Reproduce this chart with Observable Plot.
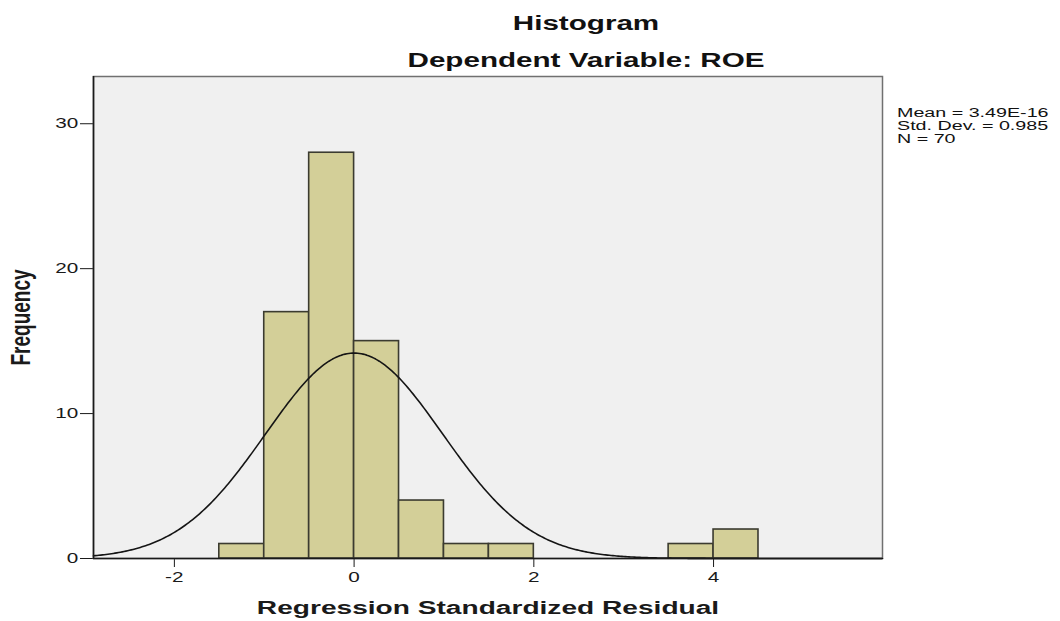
<!DOCTYPE html>
<html><head><meta charset="utf-8">
<script src="https://cdn.jsdelivr.net/npm/d3@7"></script>
<script src="https://cdn.jsdelivr.net/npm/@observablehq/plot@0.6"></script>
<style>
html,body{margin:0;padding:0;background:#fff;}
#wrap{position:relative;width:1060px;height:621px;overflow:hidden;font-family:"Liberation Sans",Arial,sans-serif;}
#wrap svg{position:absolute;left:0;top:0;}
.title{position:absolute;left:286px;width:600px;text-align:center;font-weight:bold;font-size:20px;line-height:20px;color:#111;transform:scaleX(1.48);transform-origin:50% 50%;white-space:nowrap;}
#stats{position:absolute;left:897px;top:107px;color:#111;transform:scaleX(1.64);transform-origin:0 0;white-space:nowrap;}
#stats div{font-size:12px;line-height:13px;height:13px;}
g[aria-label="x-axis label"], g[aria-label="x-axis label"] text{font-weight:bold;font-size:19px;}
g[aria-label="y-axis label"], g[aria-label="y-axis label"] text{font-weight:bold;font-size:19px;}
</style></head><body>
<div id="wrap">
<div class="title" id="t1" style="top:13px"></div>
<div class="title" id="t2" style="top:50px"></div>
<div id="stats"></div>
</div>
<script>
// ---- data ----
const titleLines = ["Histogram", "Dependent Variable: ROE"];
const binStart = [-1.5, -1, -0.5, 0, 0.5, 1, 1.5, 3.5, 4];
const binEnd   = [-1, -0.5, 0, 0.5, 1, 1.5, 2, 4, 4.5];
const frequency = [1, 17, 28, 15, 4, 1, 1, 1, 2];
const statLabels = ["Mean", "Std. Dev.", "N"];
const statValues = ["3.49E-16", "0.985", "70"];
const statMean = 3.49e-16, statStdDev = 0.985, statN = 70, binWidth = 0.5;
const xTicks = [-2, 0, 2, 4];
const yTicks = [0, 10, 20, 30];
const xDomain = [-2.9, 5.88];
const yDomain = [0, 33.26];
const xLabel = "Regression Standardized Residual";
const yLabel = "Frequency";

document.getElementById("t1").textContent = titleLines[0];
document.getElementById("t2").textContent = titleLines[1];
const statsBox = document.getElementById("stats");
statLabels.forEach((l, i) => {
  const d = document.createElement("div");
  d.textContent = `${l} = ${statValues[i]}`;
  statsBox.appendChild(d);
});

const bars = binStart.map((s, i) => ({x1: s, x2: binEnd[i], f: frequency[i]}));
// fitted normal curve (mean / std. dev. from the stats box), scaled to counts
const curve = d3.range(xDomain[0], xDomain[1] + 1e-9, 0.02).map(x => ({
  x,
  y: statN * binWidth * Math.exp(-0.5 * ((x - statMean) / statStdDev) ** 2) / (statStdDev * Math.sqrt(2 * Math.PI))
}));

const plot = Plot.plot({
  width: 1060, height: 621,
  marginLeft: 93, marginRight: 178, marginTop: 76, marginBottom: 63,
  style: {background: "transparent", color: "#1a1a1a", fontFamily: "Liberation Sans, Arial, sans-serif", fontSize: "14px"},
  x: {domain: xDomain, ticks: xTicks, tickFormat: d => String(d), tickSize: 9, tickPadding: 5,
      label: xLabel, labelAnchor: "center", labelOffset: 55},
  y: {domain: yDomain, ticks: yTicks, tickFormat: d => String(d), tickSize: 13, tickPadding: 2,
      label: yLabel, labelAnchor: "center", labelOffset: 80},
  marks: [
    Plot.frame({fill: "#f0f0f0", stroke: "#707070", strokeWidth: 1.5}),
    Plot.rectY(bars, {x1: "x1", x2: "x2", y: "f", fill: "#d3cf98", stroke: "#3b3b30", strokeWidth: 1.6}),
    Plot.line(curve, {x: "x", y: "y", stroke: "#151515", strokeWidth: 1.6}),
    Plot.ruleX([xDomain[0]], {stroke: "#1a1a1a", strokeWidth: 1.6}),
    Plot.ruleY([0], {stroke: "#1a1a1a", strokeWidth: 1.6})
  ]
});
document.getElementById("wrap").appendChild(plot);

// drop the direction arrows Plot adds to axis labels
plot.querySelectorAll('g[aria-label$="axis label"] text').forEach(t => {
  t.textContent = t.textContent.replace(/\s*[↑↓←→]\s*/g, "").trim();
});

// the reference is horizontally stretched: widen every text the same way
const SX = 1.48;
plot.querySelectorAll("text").forEach(t => {
  const bb = t.getBBox();
  const m = t.getCTM();
  const tr = t.getAttribute("transform") || "";
  if (m && Math.abs(m.b) > 0.5) {
    const cy = bb.y + bb.height / 2;
    t.setAttribute("transform", `${tr} translate(0,${cy}) scale(1,${SX}) translate(0,${-cy})`);
  } else {
    const anchor = getComputedStyle(t).textAnchor;
    const ax = anchor === "end" ? bb.x + bb.width : anchor === "middle" ? bb.x + bb.width / 2 : bb.x;
    t.setAttribute("transform", `${tr} translate(${ax},0) scale(${SX},1) translate(${-ax},0)`);
  }
});
</script>
</body></html>
